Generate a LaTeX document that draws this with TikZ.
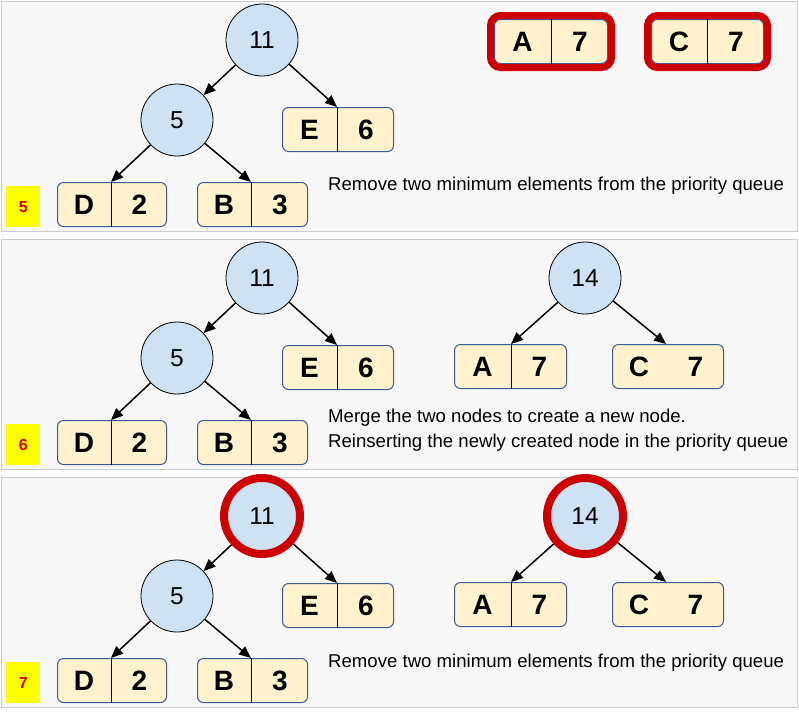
\documentclass[tikz,border=0pt]{standalone}
\usepackage{fontspec}
\setmainfont{Liberation Sans}
\usetikzlibrary{arrows.meta,fit,calc}

\definecolor{panelbg}{HTML}{F7F7F7}
\definecolor{panelline}{HTML}{CCCCCC}
\definecolor{nodeblue}{HTML}{CFE2F3}
\definecolor{leafcream}{HTML}{FFF2CC}
\definecolor{leafedge}{HTML}{3C5A96}
\definecolor{pickred}{HTML}{CC0000}
\definecolor{tagyellow}{HTML}{FFFF00}

\tikzset{
  panel/.style={rectangle, fill=panelbg, draw=panelline, line width=1, inner sep=0,
    minimum width=796, minimum height=230, anchor=north west},
  sumnode/.style={circle, draw=black, line width=0.8, fill=nodeblue, minimum size=72,
    inner sep=0, font=\fontsize{24.5}{26}\selectfont},
  picked/.style={draw=pickred, line width=8, minimum size=76},
  leaf/.style={rectangle, rounded corners=6, draw=leafedge, line width=1, fill=leafcream,
    minimum height=44, anchor=north west, inner sep=0},
  leaftext/.style={font=\bfseries\fontsize{28}{30}\selectfont, inner sep=0},
  divider/.style={draw=black, line width=1},
  pickframe/.style={draw=pickred, line width=7, rounded corners=10, inner sep=3.5},
  link/.style={draw=black, line width=1.5, -{Triangle[length=12,width=10]}},
  caption/.style={font=\fontsize{18.6}{25.5}\selectfont, anchor=west, inner sep=0, align=left},
  tag/.style={rectangle, fill=tagyellow, minimum width=34, minimum height=41, inner sep=0,
    font=\bfseries\fontsize{16}{18}\selectfont, text=pickred, anchor=north west},
}

% #1 name, #2 left x, #3 top y, #4 width, #5 divider offset, #6 key, #7 weight, #8 divider (1/0)
\newcommand\leafpair[8]{%
  \node[leaf, minimum width=#4] (#1) at (#2,#3) {};
  \coordinate (#1-top) at ($(#1.north west)+(#5,0)$);
  \coordinate (#1-bot) at ($(#1.south west)+(#5,0)$);
  \node[leaftext] (#1-key) at ($(#1.west)+({#5/2},0)$) {#6};
  \node[leaftext] (#1-val) at ($(#1.east)+({-(#4-#5)/2},0)$) {#7};
  \ifnum#8=1 \draw[divider] (#1-top) -- (#1-bot);\fi
}

\begin{document}
\begin{tikzpicture}[x=1pt,y=-1pt]
\useasboundingbox (0,0) rectangle (799,713);

% ---------- step 5 ----------
\node[panel] (p1) at (1,1) {};
\node[sumnode] (p1-n11) at (262,40) {11};
\node[sumnode] (p1-n5) at (177,120) {5};
\leafpair{p1-e}{282}{107}{111}{55}{E}{6}{1}
\leafpair{p1-d}{57}{182}{109}{54}{D}{2}{1}
\leafpair{p1-b}{197}{182}{110}{54}{B}{3}{1}
\leafpair{p1-a}{494}{19}{113}{57}{A}{7}{1}
\leafpair{p1-c}{651}{19}{112}{56}{C}{7}{1}
\node[pickframe, fit=(p1-a)] (p1-pa) {};
\node[pickframe, fit=(p1-c)] (p1-pc) {};
\draw[link] (p1-n11) -- (p1-n5);
\draw[link] (p1-n11) -- (p1-e-top);
\draw[link] (p1-n5) -- (p1-d-top);
\draw[link] (p1-n5) -- (p1-b-top);
\node[caption] (p1-cap) at (328,186) {Remove two minimum elements from the priority queue};
\node[tag] (p1-tag) at (6,186) {5};

% ---------- step 6 ----------
\node[panel] (p2) at (1,239) {};
\node[sumnode] (p2-n11) at (262,278) {11};
\node[sumnode] (p2-n5) at (177,358) {5};
\node[sumnode] (p2-n14) at (585,278) {14};
\leafpair{p2-e}{282}{345}{111}{55}{E}{6}{1}
\leafpair{p2-d}{57}{420}{109}{54}{D}{2}{1}
\leafpair{p2-b}{197}{420}{110}{54}{B}{3}{1}
\leafpair{p2-a}{454}{344}{112}{57}{A}{7}{1}
\leafpair{p2-c}{612}{344}{111}{54}{C}{7}{0}
\draw[link] (p2-n11) -- (p2-n5);
\draw[link] (p2-n11) -- (p2-e-top);
\draw[link] (p2-n5) -- (p2-d-top);
\draw[link] (p2-n5) -- (p2-b-top);
\draw[link] (p2-n14) -- (p2-a-top);
\draw[link] (p2-n14) -- (p2-c-top);
\node[caption] (p2-cap) at (328,430) {Merge the two nodes to create a new node.\\Reinserting the newly created node in the priority queue};
\node[tag] (p2-tag) at (6,424) {6};

% ---------- step 7 ----------
\node[panel] (p3) at (1,477) {};
\node[sumnode, picked] (p3-n11) at (262,516) {11};
\node[sumnode] (p3-n5) at (177,596) {5};
\node[sumnode, picked] (p3-n14) at (585,516) {14};
\leafpair{p3-e}{282}{583}{111}{55}{E}{6}{1}
\leafpair{p3-d}{57}{658}{109}{54}{D}{2}{1}
\leafpair{p3-b}{197}{658}{110}{54}{B}{3}{1}
\leafpair{p3-a}{454}{582}{112}{57}{A}{7}{1}
\leafpair{p3-c}{612}{582}{111}{54}{C}{7}{0}
\draw[link] (p3-n11) -- (p3-n5);
\draw[link] (p3-n11) -- (p3-e-top);
\draw[link] (p3-n5) -- (p3-d-top);
\draw[link] (p3-n5) -- (p3-b-top);
\draw[link] (p3-n14) -- (p3-a-top);
\draw[link] (p3-n14) -- (p3-c-top);
\node[caption] (p3-cap) at (328,663) {Remove two minimum elements from the priority queue};
\node[tag] (p3-tag) at (6,662) {7};
\end{tikzpicture}
\end{document}
